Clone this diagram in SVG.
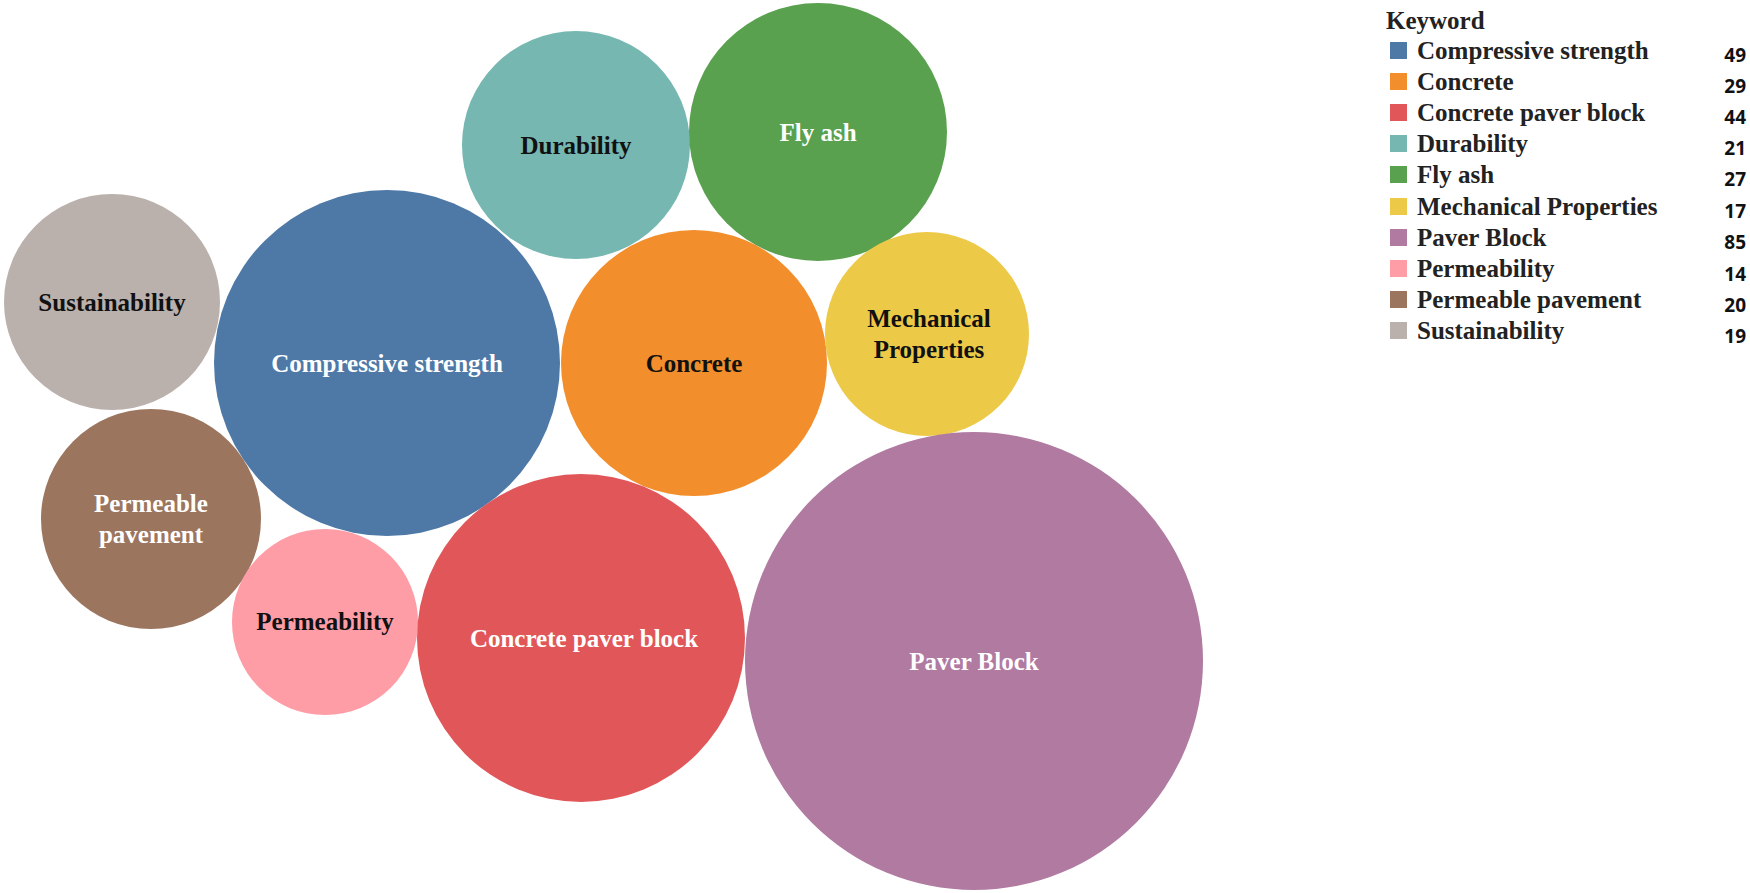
<svg xmlns="http://www.w3.org/2000/svg" width="1750" height="893" viewBox="0 0 1750 893">
<style>
text{font-family:"Liberation Serif",serif;font-weight:bold}
.l{font-size:25px;text-anchor:middle}
.w{fill:#fff}.k{fill:#111}
.lg{font-size:25px;fill:#222}
.n{font-family:"Open Sans","Liberation Sans",sans-serif;font-size:19px;text-anchor:end;fill:#111}
</style>
<rect width="1750" height="893" fill="#fff"/>
<g id="durability"><circle cx="576" cy="145" r="114" fill="#76b7b2"/><text class="l k" x="576" y="154">Durability</text></g>
<g id="flyash"><circle cx="818" cy="132" r="129" fill="#59a14f"/><text class="l w" x="818" y="141">Fly ash</text></g>
<g id="sustainability"><circle cx="112" cy="302" r="108" fill="#bab0ac"/><text class="l k" x="112" y="311">Sustainability</text></g>
<g id="compressive"><circle cx="387" cy="363" r="173" fill="#4e79a7"/><text class="l w" x="387" y="372">Compressive strength</text></g>
<g id="concrete"><circle cx="694" cy="363" r="133" fill="#f28e2b"/><text class="l k" x="694" y="372">Concrete</text></g>
<g id="mechanical"><circle cx="927" cy="334" r="102" fill="#edc948"/><text class="l k" x="929" y="327">Mechanical</text><text class="l k" x="929" y="358">Properties</text></g>
<g id="permeablepavement"><circle cx="151" cy="519" r="110" fill="#9c755f"/><text class="l w" x="151" y="512">Permeable</text><text class="l w" x="151" y="543">pavement</text></g>
<g id="permeability"><circle cx="325" cy="622" r="93" fill="#ff9da7"/><text class="l k" x="325" y="630">Permeability</text></g>
<g id="concretepaverblock"><circle cx="581" cy="638" r="164" fill="#e15759"/><text class="l w" x="584" y="647">Concrete paver block</text></g>
<g id="paverblock"><circle cx="974" cy="661" r="229" fill="#b07aa1"/><text class="l w" x="974" y="670">Paver Block</text></g>
<g id="legend">
<text class="lg" x="1386" y="29">Keyword</text>
<g>
<rect x="1390" y="42" width="17" height="17" fill="#4e79a7"/><text class="lg" x="1417" y="59">Compressive strength</text><text class="n" x="1746" y="62">49</text>
<rect x="1390" y="73" width="17" height="17" fill="#f28e2b"/><text class="lg" x="1417" y="90">Concrete</text><text class="n" x="1746" y="93">29</text>
<rect x="1390" y="104" width="17" height="17" fill="#e15759"/><text class="lg" x="1417" y="121">Concrete paver block</text><text class="n" x="1746" y="124">44</text>
<rect x="1390" y="135" width="17" height="17" fill="#76b7b2"/><text class="lg" x="1417" y="152">Durability</text><text class="n" x="1746" y="155">21</text>
<rect x="1390" y="166" width="17" height="17" fill="#59a14f"/><text class="lg" x="1417" y="183">Fly ash</text><text class="n" x="1746" y="186">27</text>
<rect x="1390" y="198" width="17" height="17" fill="#edc948"/><text class="lg" x="1417" y="215">Mechanical Properties</text><text class="n" x="1746" y="218">17</text>
<rect x="1390" y="229" width="17" height="17" fill="#b07aa1"/><text class="lg" x="1417" y="246">Paver Block</text><text class="n" x="1746" y="249">85</text>
<rect x="1390" y="260" width="17" height="17" fill="#ff9da7"/><text class="lg" x="1417" y="277">Permeability</text><text class="n" x="1746" y="281">14</text>
<rect x="1390" y="291" width="17" height="17" fill="#9c755f"/><text class="lg" x="1417" y="308">Permeable pavement</text><text class="n" x="1746" y="312">20</text>
<rect x="1390" y="322" width="17" height="17" fill="#bab0ac"/><text class="lg" x="1417" y="339">Sustainability</text><text class="n" x="1746" y="343">19</text>
</g>
</g>
</svg>
